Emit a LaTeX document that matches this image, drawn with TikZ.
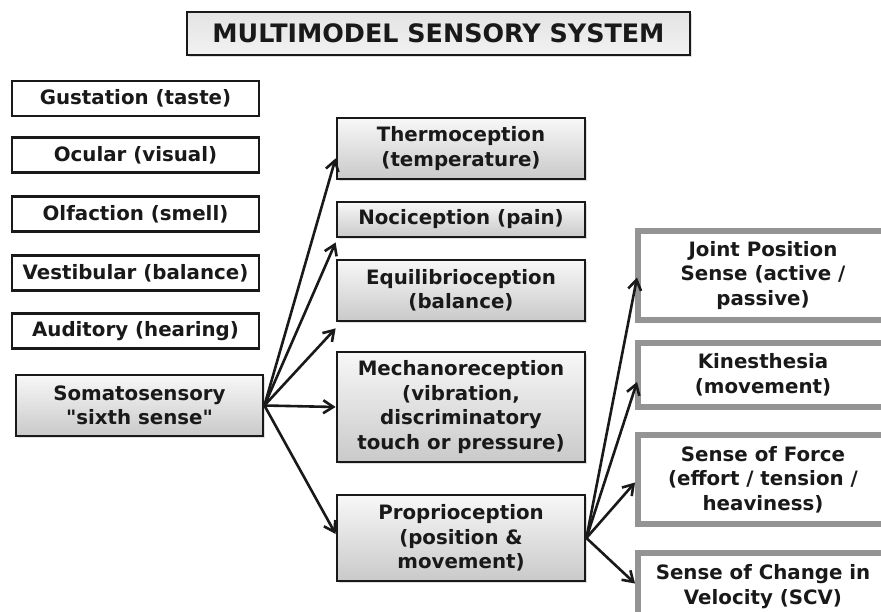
\documentclass[tikz,border=0pt]{standalone}
\usepackage{fontspec}
\setmainfont{DejaVu Sans}[Ligatures=TeXOff]
\usetikzlibrary{arrows.meta,calc,shadows}
\begin{document}
\begin{tikzpicture}[x=1pt,y=-1pt,
  base/.style={rectangle,align=center,inner sep=1pt,font=\bfseries\fontsize{19.8}{24.5}\selectfont,text=black!90},
  plainbox/.style={base,draw=black!90,line width=2.8pt,fill=white,minimum width=247pt,minimum height=35pt},
  shadebox/.style={base,draw=black!90,line width=2.8pt,top color=gray!6,bottom color=gray!42,
     drop shadow={opacity=0.25,shadow xshift=2pt,shadow yshift=-2pt}},
  midbox/.style={shadebox,minimum width=248pt},
  rightbox/.style={base,draw=gray!80!black!70,line width=6pt,fill=white,minimum width=250pt},
  conn/.style={line width=2.6pt,draw=black!90,-{Straight Barb[length=10pt,width=13pt,line width=2.6pt]}}
]
\useasboundingbox (0,0) rectangle (881,612);
\clip (0,0) rectangle (881,612);
\fill[white] (0,0) rectangle (881,612);

% title
\node[shadebox,top color=gray!22,bottom color=gray!10,minimum width=503pt,minimum height=43pt,
      font=\bfseries\fontsize{25.4}{28}\selectfont] (title) at (438.5,33.5) {MULTIMODEL SENSORY SYSTEM};

% left column
\node[plainbox] (gust) at (135.5,98.5) {Gustation (taste)};
\node[plainbox] (ocul) at (135.5,155) {Ocular (visual)};
\node[plainbox] (olf)  at (135.5,214) {Olfaction (smell)};
\node[plainbox] (vest) at (135.5,273) {Vestibular (balance)};
\node[plainbox] (aud)  at (135.5,331) {Auditory (hearing)};
\node[shadebox,minimum width=247pt,minimum height=61pt] (soma) at (139.5,405.5) {Somatosensory\\"sixth sense"};

% middle column
\node[midbox,minimum height=61pt]  (thermo) at (461,148.5) {Thermoception\\(temperature)};
\node[midbox,minimum height=35pt]  (noci)   at (461,219.5) {Nociception (pain)};
\node[midbox,minimum height=61pt]  (equi)   at (461,290.5) {Equilibrioception\\(balance)};
\node[midbox,minimum height=110pt] (mech)   at (461,407) {Mechanoreception\\(vibration,\\discriminatory\\touch or pressure)};
\node[midbox,minimum height=86pt]  (prop)   at (461,538) {Proprioception\\(position \&\\movement)};

% right column
\node[rightbox,minimum height=89pt] (joint) at (763,275.5) {Joint Position\\Sense (active /\\passive)};
\node[rightbox,minimum height=64pt] (kin)   at (763,375) {Kinesthesia\\(movement)};
\node[rightbox,minimum height=89pt] (force) at (763,479.5) {Sense of Force\\(effort / tension /\\heaviness)};
\node[rightbox,minimum height=67pt] (scv)   at (763,586.5) {Sense of Change in\\Velocity (SCV)};

% connectors from somatosensory
\draw[conn] (soma.east) -- ($(thermo.south west)+(0,-22)$);
\draw[conn] (soma.east) -- ($(noci.south west)+(0,4)$);
\draw[conn] (soma.east) -- ($(equi.south west)+(0,6)$);
\draw[conn] (soma.east) -- (mech.west);
\draw[conn] (soma.east) -- ($(prop.west)+(0,-4)$);

% connectors from proprioception
\draw[conn] (prop.east) -- ($(joint.west)+(2,2)$);
\draw[conn] (prop.east) -- ($(kin.west)+(2,7)$);
\draw[conn] (prop.east) -- ($(force.west)+(0,3)$);
\draw[conn] (prop.east) -- ($(scv.west)+(0,-3)$);
\end{tikzpicture}
\end{document}
